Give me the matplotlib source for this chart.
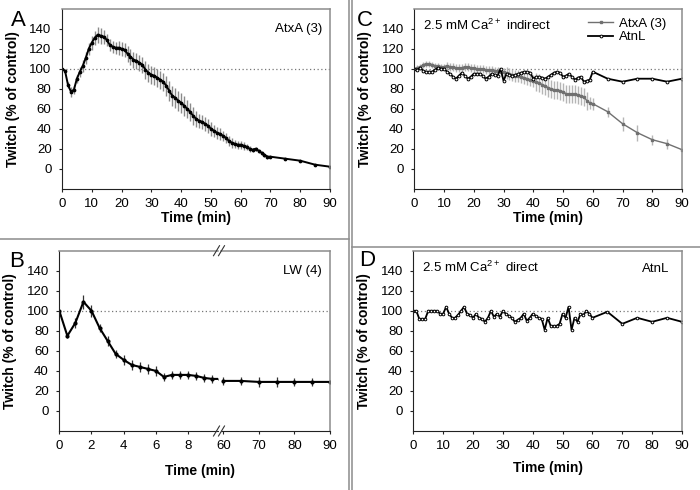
import matplotlib
matplotlib.use('Agg')
import matplotlib.pyplot as plt
from matplotlib.lines import Line2D

plt.rcParams['font.family'] = ['Liberation Sans', 'DejaVu Sans']
plt.rcParams['mathtext.fontset'] = 'custom'
plt.rcParams['mathtext.rm'] = 'Liberation Sans'
plt.rcParams['mathtext.default'] = 'regular'

# ---- data ----
# A: AtxA (3)
a_time = list(range(0, 71)) + [75, 80, 85, 90]
a_twitch = [100, 98, 84, 77, 79, 90, 97, 103, 111, 120,
            126, 131, 134, 133, 132, 129, 124, 122, 121, 121,
            120, 119, 115, 112, 109, 108, 106, 104, 99, 96,
            94, 93, 91, 89, 87, 83, 78, 73, 71, 68,
            66, 63, 60, 57, 53, 50, 48, 47, 45, 43,
            40, 38, 36, 35, 33, 31, 28, 26, 25, 24,
            24, 23, 22, 20, 19, 20, 18, 16, 14, 12,
            12, 10, 8, 4, 2]
a_sem = [0, 1, 3, 5, 4, 4, 5, 6, 6, 6,
         7, 7, 8, 8, 7, 6, 6, 6, 6, 7,
         7, 7, 8, 8, 8, 8, 8, 8, 9, 9,
         9, 9, 9, 9, 9, 10, 10, 10, 10, 10,
         10, 10, 9, 9, 9, 8, 7, 7, 7, 7,
         7, 6, 6, 6, 5, 5, 5, 5, 4, 4,
         4, 4, 3, 3, 2, 2, 2, 2, 2, 2,
         1, 1, 1, 1, 0]

# B: LW (4), broken time axis
b_time_early = [0, 0.5, 1, 1.5, 2, 2.5, 3, 3.5, 4, 4.5, 5, 5.5, 6, 6.5, 7, 7.5, 8, 8.5, 9, 9.5, 10]
b_twitch_early = [100, 75, 88, 109, 100, 83, 70, 57, 51, 46, 44, 42, 40, 34, 36, 36, 36, 35, 33, 32, 32]
b_sem_early = [0, 2, 5, 7, 6, 4, 5, 4, 5, 5, 5, 5, 5, 4, 4, 4, 4, 4, 4, 4, 0]
b_time_late = [60, 65, 70, 75, 80, 85, 90]
b_twitch_late = [30, 30, 29, 29, 29, 29, 29]
b_sem_late = [4, 4, 5, 5, 4, 4, 0]

# C: 2.5 mM Ca indirect
c_time = list(range(0, 61)) + [65, 70, 75, 80, 85, 90]
c_atxa = [100, 101, 102, 104, 105, 105, 104, 103, 103, 102,
          102, 103, 102, 102, 101, 101, 101, 102, 102, 101,
          101, 100, 100, 100, 99, 99, 99, 98, 98, 97,
          97, 96, 95, 94, 93, 93, 92, 91, 90, 89,
          88, 87, 86, 84, 83, 81, 80, 79, 79, 78,
          77, 75, 75, 75, 75, 74, 73, 72, 68, 66,
          65, 57, 45, 36, 29, 25, 19]
c_atxa_sem = [0, 3, 3, 3, 3, 3, 3, 3, 3, 3,
              3, 4, 4, 4, 4, 4, 4, 4, 4, 4,
              4, 4, 4, 4, 4, 4, 4, 4, 4, 4,
              4, 6, 6, 6, 6, 6, 6, 6, 6, 6,
              6, 9, 9, 9, 9, 9, 9, 9, 9, 9,
              9, 9, 9, 9, 9, 9, 9, 9, 9, 6,
              6, 5, 7, 8, 5, 5, 0]
c_atnl = [100, 99, 101, 98, 97, 97, 97, 99, 101, 100,
          100, 97, 95, 92, 90, 93, 96, 93, 90, 92,
          95, 95, 95, 93, 90, 92, 95, 94, 93, 100,
          88, 95, 94, 93, 94, 95, 96, 97, 97, 96,
          90, 92, 92, 91, 90, 92, 94, 96, 97, 96,
          92, 93, 95, 92, 89, 91, 92, 87, 88, 89,
          97, 90, 87, 90, 90, 87, 90]

# D: 2.5 mM Ca direct
d_time = list(range(0, 61)) + [65, 70, 75, 80, 85, 90]
d_atnl = [100, 100, 92, 92, 92, 100, 100, 100, 100, 97,
          97, 104, 97, 93, 93, 96, 100, 104, 97, 96,
          93, 97, 93, 92, 89, 93, 100, 94, 97, 94,
          100, 97, 95, 93, 89, 91, 93, 97, 90, 93,
          97, 95, 93, 92, 81, 93, 85, 85, 85, 87,
          97, 93, 104, 81, 93, 89, 97, 96, 100, 97,
          93, 99, 87, 93, 89, 93, 89]

y_ticks = [0, 20, 40, 60, 80, 100, 120, 140]
W, H = 700, 490


def box(l, t, r, b):
    return [l / W, 1 - b / H, (r - l) / W, (b - t) / H]


def style(ax):
    ax.set_ylim(-20, 160)
    ax.set_yticks(y_ticks)
    for s in ['left', 'bottom']:
        ax.spines[s].set_color('#222222')
        ax.spines[s].set_linewidth(0.8)
    for s in ['top', 'right']:
        ax.spines[s].set_color('#8c8c8c')
        ax.spines[s].set_linewidth(1.1)
    ax.tick_params(direction='out', length=2.5, width=0.8, color='#222222', labelsize=9.5)
    ax.tick_params(axis='y', pad=5)
    ax.tick_params(axis='x', pad=4)
    ax.axhline(100, color='#777777', ls=(0, (1, 2)), lw=0.9, zorder=1)


def ylab(ax):
    ax.set_ylabel('Twitch (% of control)', fontsize=10, fontweight='bold', labelpad=7)


fig = plt.figure(figsize=(7, 4.9), dpi=100)

# panel A
axA = fig.add_axes(box(62, 8.7, 330, 188.7))
style(axA)
axA.errorbar(a_time, a_twitch, yerr=a_sem, fmt='none', ecolor='#8a8a8a', elinewidth=1, capsize=0)
axA.plot(a_time, a_twitch, color='black', lw=1.4, marker='o', ms=1.7)
axA.set_xlim(0, 90)
axA.set_xticks(range(0, 91, 10))
axA.set_xlabel('Time (min)', fontsize=10, fontweight='bold', labelpad=1)
ylab(axA)

# panel C
axC = fig.add_axes(box(414.3, 8.7, 682, 188.7))
style(axC)
axC.errorbar(c_time, c_atxa, yerr=c_atxa_sem, fmt='none', ecolor='#b5b5b5', elinewidth=1, capsize=0)
axC.plot(c_time, c_atxa, color='#707070', lw=1, marker='s', ms=1.8, label='AtxA (3)')
axC.plot(c_time, c_atnl, color='black', lw=1.3, marker='o', ms=2, mfc='white', mew=0.7, label='AtnL')
axC.set_xlim(0, 90)
axC.set_xticks(range(0, 91, 10))
axC.set_xlabel('Time (min)', fontsize=10, fontweight='bold', labelpad=1)
ylab(axC)
axC.legend(loc='upper left', bbox_to_anchor=(0.649, 0.95), frameon=False, fontsize=9.5,
           handlelength=1.9, handletextpad=0.45, labelspacing=0.1, borderpad=0, borderaxespad=0)

# panel B (broken axis)
axB1 = fig.add_axes(box(59.3, 250.7, 218, 431))
axB2 = fig.add_axes(box(221, 250.7, 330, 431))
style(axB1)
style(axB2)
axB1.errorbar(b_time_early, b_twitch_early, yerr=b_sem_early, fmt='none', ecolor='#333333', elinewidth=0.9, capsize=0)
axB1.plot(b_time_early, b_twitch_early, color='black', lw=1.5, marker='o', ms=2)
axB2.errorbar(b_time_late, b_twitch_late, yerr=b_sem_late, fmt='none', ecolor='#333333', elinewidth=0.9, capsize=0)
axB2.plot(b_time_late, b_twitch_late, color='black', lw=1.5, marker='o', ms=2)
axB1.set_xlim(0, 9.86)
axB1.set_xticks([0, 2, 4, 6, 8])
axB2.set_xlim(59.35, 90)
axB2.set_xticks([60, 70, 80, 90])
axB1.spines['right'].set_visible(False)
axB2.spines['left'].set_visible(False)
axB2.tick_params(axis='y', left=False, labelleft=False)
ylab(axB1)
fig.text(200 / W, 1 - 471 / H, 'Time (min)', fontsize=10, fontweight='bold', ha='center', va='center')
for yb in [431, 250.7]:
    for xb in [216.5, 221.5]:
        fig.add_artist(Line2D([(xb - 3) / W, (xb + 3) / W], [1 - (yb + 5) / H, 1 - (yb - 5) / H],
                              color='#333333', lw=0.8))

# panel D
axD = fig.add_axes(box(413.3, 250.7, 682, 431))
style(axD)
axD.plot(d_time, d_atnl, color='black', lw=1.3, marker='o', ms=1.9, mfc='white', mew=0.7)
axD.set_xlim(0, 90)
axD.set_xticks(range(0, 91, 10))
axD.set_xlabel('Time (min)', fontsize=10, fontweight='bold', labelpad=6.5)
ylab(axD)

# annotations
fig.text(322 / W, 1 - 32 / H, 'AtxA (3)', fontsize=9.5, ha='right', va='baseline')
fig.text(322 / W, 1 - 273.5 / H, 'LW (4)', fontsize=9.5, ha='right', va='baseline')
fig.text(669 / W, 1 - 272.5 / H, 'AtnL', fontsize=9.5, ha='right', va='baseline')
fig.text(423 / W, 1 - 29.5 / H, '2.5 mM Ca$^{2+}$ indirect', fontsize=9.5, ha='left', va='baseline')
fig.text(422 / W, 1 - 271.5 / H, '2.5 mM Ca$^{2+}$ direct', fontsize=9.5, ha='left', va='baseline')

for lab, x, y in [('A', 18.5, 21), ('C', 364.5, 20), ('B', 17, 261.5), ('D', 367, 260)]:
    fig.text(x / W, 1 - y / H, lab, fontsize=16, ha='center', va='center')

# panel separators
sep = '#8c8c8c'
fig.add_artist(Line2D([348.5 / W, 348.5 / W], [0, 1], color=sep, lw=1.1))
fig.add_artist(Line2D([352.3 / W, 352.3 / W], [0, 1], color=sep, lw=1.1))
fig.add_artist(Line2D([0, 348.5 / W], [1 - 239.3 / H, 1 - 239.3 / H], color=sep, lw=1.1))
fig.add_artist(Line2D([352.3 / W, 1], [1 - 247 / H, 1 - 247 / H], color=sep, lw=1.1))

fig.savefig('out.png', dpi=100)
